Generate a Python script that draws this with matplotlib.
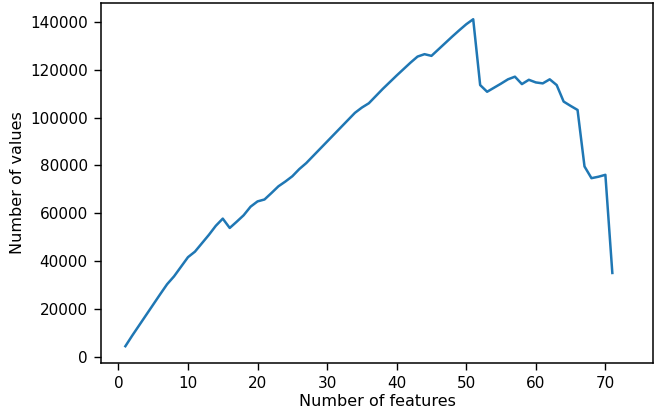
import matplotlib
matplotlib.use('Agg')
import matplotlib.pyplot as plt

# values
n_features = list(range(1, 72))
n_values = [
    4500, 9000, 13300, 17600, 21900, 26200, 30400, 33700, 37700, 41700,
    44000, 47500, 51000, 54800, 57800, 53900, 56500, 59200, 62800, 65000,
    65800, 68500, 71300, 73300, 75500, 78500, 81000, 84000, 87000, 90000,
    93000, 96000, 99000, 102000, 104200, 106000, 109000, 112000, 114800, 117600,
    120300, 123000, 125500, 126500, 125800, 128500, 131200, 133900, 136500, 139000,
    141100, 113600, 110800, 112500, 114200, 116000, 117100, 114000, 115800, 114700,
    114300, 116000, 113600, 106700, 104900, 103200, 79600, 74700, 75300, 76100,
    35100,
]

fig = plt.figure(figsize=(6.56, 4.12), dpi=100)
ax = fig.add_axes([0.154, 0.12, 0.842, 0.873])
ax.plot(n_features, n_values, color='#1f77b4', linewidth=1.8)

ax.set_xlim(-2.5, 76.9)
ax.set_ylim(-2330, 147930)
ax.set_xticks(range(0, 71, 10))
ax.set_yticks(range(0, 140001, 20000))
ax.tick_params(labelsize=11, length=5, width=1, pad=4.5)
for s in ax.spines.values():
    s.set_linewidth(1.1)
ax.set_xlabel('Number of features', fontsize=11.5, labelpad=2)
ax.set_ylabel('Number of values', fontsize=11.5, labelpad=4)

fig.savefig('out.png', dpi=100)
